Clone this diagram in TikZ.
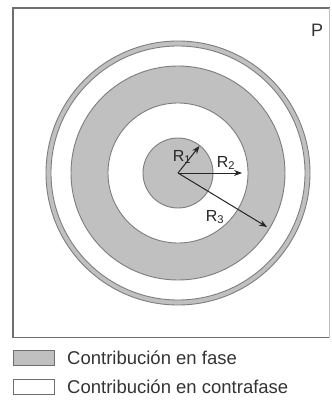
\documentclass[tikz,border=0pt]{standalone}
\usepackage{fontspec}
\setmainfont{Liberation Sans}
\usetikzlibrary{arrows.meta}
\definecolor{ringgray}{RGB}{192,192,192}
\definecolor{edgegray}{RGB}{125,125,125}
\definecolor{framegray}{RGB}{110,110,110}
\begin{document}
\begin{tikzpicture}[x=1pt,y=-1pt,
  ringedge/.style={draw=edgegray,line width=0.9pt},
  radarrow/.style={draw=black!85,line width=1pt,-{Stealth[length=8pt,width=6pt]}},
  rlabel/.style={font=\fontsize{16}{16}\selectfont,inner sep=0pt,text=black!85},
  legtext/.style={font=\fontsize{18.5}{19}\selectfont,anchor=west,inner sep=0pt,text=black!80},
  legbox/.style={draw=framegray,line width=1pt}]
\useasboundingbox (0,0) rectangle (331,403);
\draw[framegray,line width=1.3pt] (330,8) -- (13,8) -- (13,337.5) -- (330,337.5);
\draw[black!25,line width=0.8pt] (329.5,8) -- (329.5,337.5);
% rings
\coordinate (O) at (178,173);
\fill[ringgray] (O) circle (132);
\draw[ringedge] (O) circle (132);
\fill[white] (O) circle (127);
\draw[ringedge] (O) circle (127);
\fill[ringgray] (O) circle (107);
\draw[ringedge] (O) circle (107);
\fill[white] (O) circle (70);
\draw[ringedge] (O) circle (70);
\fill[ringgray] (O) circle (35);
\draw[ringedge] (O) circle (35);
% radii
\coordinate (E1) at (199.5,146);
\coordinate (E2) at (242,173);
\coordinate (E3) at (267,227);
\draw[radarrow] (O) -- (E1);
\draw[radarrow] (O) -- (E2);
\draw[radarrow] (O) -- (E3);
\node[rlabel] (r1) at (182,157) {R\textsubscript{1}};
\node[rlabel] (r2) at (226,163) {R\textsubscript{2}};
\node[rlabel] (r3) at (215,217) {R\textsubscript{3}};
\node[font=\fontsize{18}{18}\selectfont,inner sep=0pt,text=black!80] (p) at (317,30) {P};
% legend
\draw[legbox,fill=ringgray] (13,350) rectangle (54,365);
\draw[legbox,fill=white] (13,379) rectangle (54,394);
\node[legtext] (l1) at (67,357.5) {Contribución en fase};
\node[legtext] (l2) at (67,386.5) {Contribución en contrafase};
\end{tikzpicture}
\end{document}
